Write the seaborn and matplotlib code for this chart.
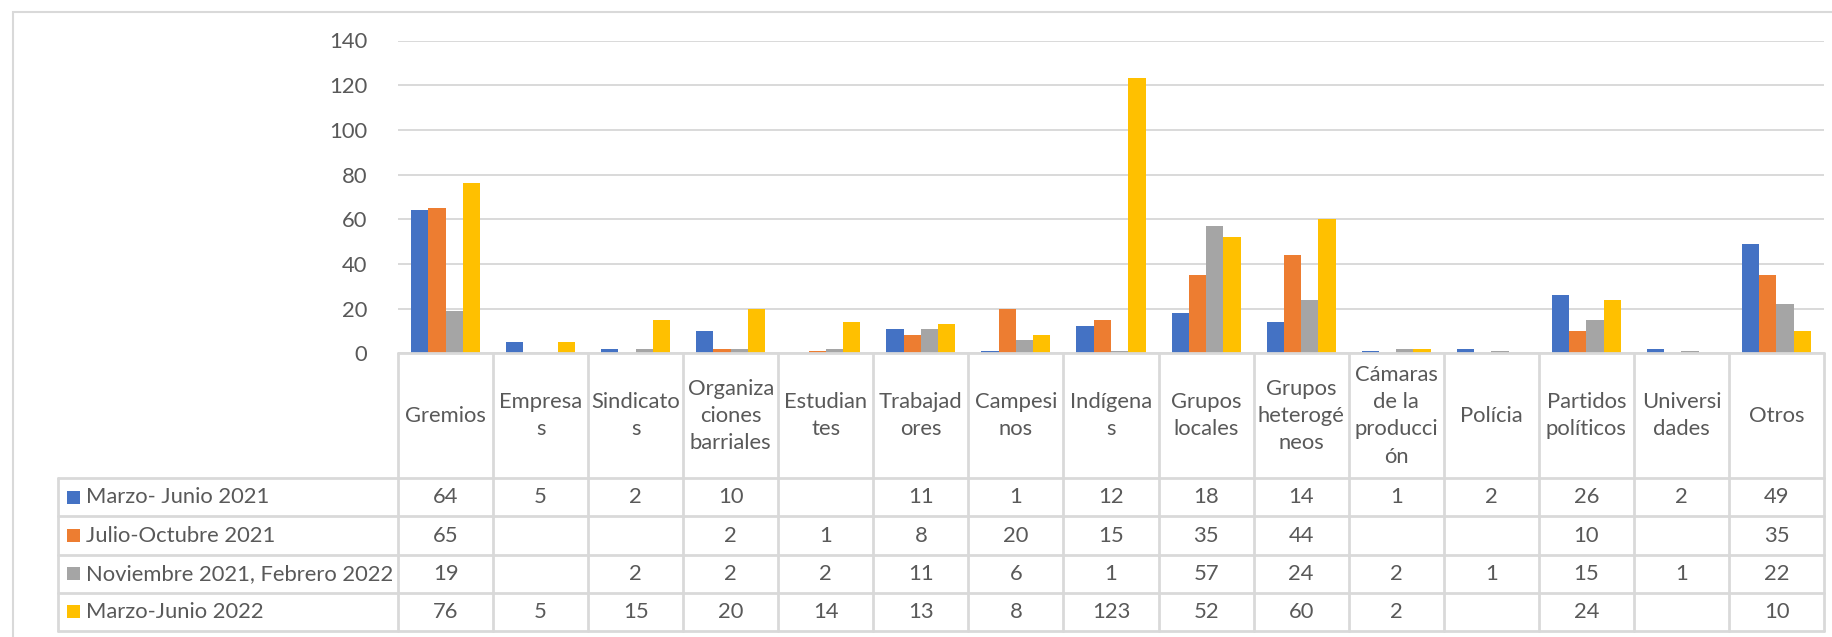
import numpy as np
import pandas as pd
import matplotlib
matplotlib.use("Agg")
import matplotlib.pyplot as plt
import seaborn as sns
from matplotlib.patches import Rectangle

nan = np.nan

categories = ["Gremios", "Empresas", "Sindicatos", "Organizaciones barriales",
              "Estudiantes", "Trabajadores", "Campesinos", "Indígenas",
              "Grupos locales", "Grupos heterogéneos", "Cámaras de la producción",
              "Polícia", "Partidos políticos", "Universidades", "Otros"]
# labels as Excel wraps them in the table
cat_labels = ["Gremios", "Empresa\ns", "Sindicato\ns", "Organiza\nciones\nbarriales",
              "Estudian\ntes", "Trabajad\nores", "Campesi\nnos", "Indígena\ns",
              "Grupos\nlocales", "Grupos\nheterogé\nneos", "Cámaras\nde la\nproducci\nón",
              "Polícia", "Partidos\npolíticos", "Universi\ndades", "Otros"]
series = ["Marzo- Junio 2021", "Julio-Octubre 2021",
          "Noviembre 2021, Febrero 2022", "Marzo-Junio 2022"]

marzo_junio_2021 = [64, 5, 2, 10, nan, 11, 1, 12, 18, 14, 1, 2, 26, 2, 49]
julio_octubre_2021 = [65, nan, nan, 2, 1, 8, 20, 15, 35, 44, nan, nan, 10, nan, 35]
nov_2021_feb_2022 = [19, nan, 2, 2, 2, 11, 6, 1, 57, 24, 2, 1, 15, 1, 22]
marzo_junio_2022 = [76, 5, 15, 20, 14, 13, 8, 123, 52, 60, 2, nan, 24, nan, 10]

colors = ["#4472C4", "#ED7D31", "#A5A5A5", "#FFC000"]
values = [marzo_junio_2021, julio_octubre_2021, nov_2021_feb_2022, marzo_junio_2022]

rows = []
for s, vals in zip(series, values):
    for c, v in zip(categories, vals):
        rows.append({"cat": c, "serie": s, "val": v})
df = pd.DataFrame(rows)

sns.set_style("white")
plt.rcParams["font.family"] = ["Lato", "DejaVu Sans"]
txt = "#595959"
grid = "#D9D9D9"
fs = 15.8

W, H = 1832, 637
fig = plt.figure(figsize=(W / 100, H / 100), dpi=100)

# plot area in pixels
px_l, px_r, px_t, px_b = 398, 1824, 40.5, 353.3
ax = fig.add_axes([px_l / W, (H - px_b) / H, (px_r - px_l) / W, (px_b - px_t) / H])
sns.barplot(data=df.dropna(), x="cat", y="val", hue="serie", order=categories,
            hue_order=series, palette=colors, width=0.727, saturation=1,
            errorbar=None, linewidth=0, legend=False, ax=ax)
ax.set_xlim(-0.5, 14.5)
ax.set_ylim(0, 140)
ax.set_yticks(range(0, 141, 20))
ax.set_xticks([])
ax.set_xlabel("")
ax.set_ylabel("")
for sp in ax.spines.values():
    sp.set_visible(False)
ax.yaxis.grid(True, color=grid, linewidth=1.4)
ax.set_axisbelow(True)
ax.tick_params(axis="y", length=0, pad=22, labelsize=fs, labelcolor=txt)

# data table under the chart
col_w = (px_r - px_l) / 15
tb_l, tb_b = 58, 631
x0 = -0.5 - (px_l - tb_l) / col_w
tax = fig.add_axes([tb_l / W, (H - tb_b) / H, (px_r - tb_l) / W, (tb_b - px_b) / H])
tax.set_xlim(x0, 14.5)
tax.set_ylim(tb_b, px_b)
tax.axis("off")

cat_bot = 478.3
row_edges = np.linspace(cat_bot, tb_b, 5)
lw = 2
for i in range(16):
    tax.plot([i - 0.5, i - 0.5], [px_b, tb_b], color=grid, lw=lw, clip_on=False)
tax.plot([-0.5, 14.5], [px_b, px_b], color=grid, lw=lw, clip_on=False)
tax.plot([x0, x0], [cat_bot, tb_b], color=grid, lw=lw, clip_on=False)
for y in row_edges:
    tax.plot([x0, 14.5], [y, y], color=grid, lw=lw, clip_on=False)

for i, lab in enumerate(cat_labels):
    tax.text(i, (px_b + cat_bot) / 2, lab, ha="center", va="center",
             fontsize=fs, color=txt, linespacing=1.45)

for r, (s, vals, col) in enumerate(zip(series, values, colors)):
    yc = (row_edges[r] + row_edges[r + 1]) / 2
    tax.add_patch(Rectangle((x0 + 9 / col_w, yc - 6.5), 13 / col_w, 13,
                            facecolor=col, edgecolor="none", clip_on=False))
    tax.text(x0 + 28 / col_w, yc, s, ha="left", va="center", fontsize=fs, color=txt)
    for i, v in enumerate(vals):
        if not np.isnan(v):
            tax.text(i, yc, f"{int(v)}", ha="center", va="center", fontsize=fs, color=txt)

# chart area border
fig.patches.append(Rectangle((13 / W, -0.1), 1.2, (H - 11.7) / H + 0.1,
                             transform=fig.transFigure, fill=False,
                             edgecolor=grid, lw=1.5))

fig.savefig("out.png", dpi=100, facecolor="white")
